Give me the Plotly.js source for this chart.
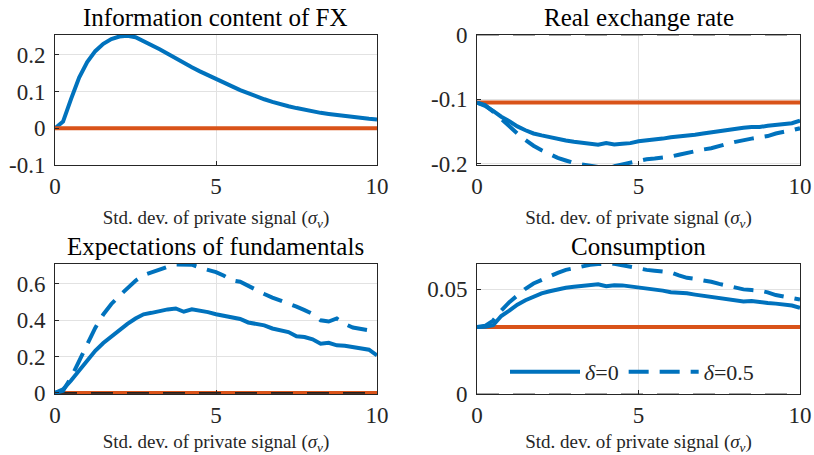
<!DOCTYPE html>
<html>
<head>
<meta charset="utf-8">
<script src="https://cdn.plot.ly/plotly-3.0.1.min.js"></script>
<style>html,body{margin:0;padding:0;background:#fff;}#chart{width:814px;height:455px;}</style>
</head>
<body>
<div id="chart"></div>
<script>
// ---- data ----
const sigmaV = [0,0.25,0.5,0.75,1,1.25,1.5,1.75,2,2.25,2.5,2.75,3,3.25,3.5,3.75,4,4.25,4.5,4.75,5,5.25,5.5,5.75,6,6.25,6.5,6.75,7,7.25,7.5,7.75,8,8.25,8.5,8.75,9,9.25,9.5,9.75,10];

const infoFX = [0,0.018,0.08,0.138,0.18,0.21,0.23,0.243,0.25,0.252,0.248,0.238,0.226,0.215,0.203,0.19,0.177,0.166,0.155,0.144,0.134,0.124,0.114,0.104,0.095,0.087,0.079,0.072,0.065,0.06,0.055,0.05,0.046,0.042,0.039,0.036,0.033,0.031,0.029,0.026,0.024];

const rerD0 = [-0.105,-0.110,-0.118,-0.127,-0.134,-0.142,-0.148,-0.153,-0.156,-0.159,-0.162,-0.164,-0.166,-0.168,-0.169,-0.1705,-0.168,-0.170,-0.169,-0.168,-0.165,-0.164,-0.163,-0.161,-0.159,-0.158,-0.156,-0.155,-0.153,-0.151,-0.149,-0.147,-0.146,-0.144,-0.143,-0.143,-0.141,-0.140,-0.139,-0.137,-0.133];
const rerD05 = [-0.105,-0.109,-0.119,-0.131,-0.143,-0.153,-0.163,-0.172,-0.179,-0.185,-0.191,-0.195,-0.199,-0.201,-0.203,-0.205,-0.205,-0.204,-0.201,-0.198,-0.195,-0.193,-0.192,-0.191,-0.189,-0.186,-0.183,-0.180,-0.178,-0.176,-0.172,-0.169,-0.166,-0.163,-0.161,-0.159,-0.157,-0.153,-0.151,-0.148,-0.145];

const expD0 = [0,0.02,0.068,0.122,0.17,0.232,0.275,0.312,0.348,0.38,0.41,0.433,0.441,0.452,0.46,0.465,0.447,0.46,0.455,0.445,0.433,0.423,0.413,0.407,0.388,0.38,0.372,0.355,0.345,0.335,0.312,0.308,0.295,0.271,0.276,0.262,0.26,0.252,0.245,0.238,0.207];
const expD05 = [0,0.012,0.085,0.18,0.265,0.358,0.432,0.49,0.535,0.58,0.618,0.648,0.665,0.678,0.695,0.707,0.706,0.706,0.69,0.676,0.665,0.645,0.62,0.612,0.588,0.565,0.545,0.525,0.51,0.493,0.475,0.456,0.435,0.40,0.393,0.41,0.38,0.36,0.352,0.345,0.325];

const consD0 = [0.032,0.0321,0.0328,0.0372,0.0398,0.0426,0.0447,0.0466,0.048,0.049,0.0499,0.0507,0.0512,0.0516,0.052,0.0523,0.0514,0.0519,0.0518,0.0513,0.0508,0.0504,0.05,0.0493,0.0485,0.0483,0.048,0.0474,0.0469,0.0464,0.0457,0.0452,0.0449,0.0441,0.0444,0.0437,0.0434,0.0431,0.0428,0.0422,0.0411];
const consD05 = [0.032,0.0325,0.035,0.0398,0.0438,0.0472,0.0502,0.0527,0.0545,0.0562,0.0578,0.0592,0.0601,0.0609,0.0616,0.062,0.0621,0.0621,0.0614,0.0606,0.0598,0.0592,0.0588,0.0586,0.058,0.0566,0.0554,0.0549,0.0544,0.0535,0.0525,0.0515,0.0506,0.0499,0.0496,0.0493,0.0485,0.0472,0.0465,0.0458,0.045];

// benchmark (orange) and zero reference lines
const benchX = [0, 10];
const benchFX = [0, 0];
const benchRER = [-0.105, -0.105];
const benchEXP = [0, 0];
const benchCONS = [0.032, 0.032];
const zeroLine = [0, 0];

const panelTitles = ["Information content of FX", "Real exchange rate", "Expectations of fundamentals", "Consumption"];
const legendNames = ["<i>δ</i>=0", "<i>δ</i>=0.5"];
const xTickVals = [0, 5, 10];
const xTickText = ["0", "5", "10"];
const yTicks1 = [-0.1, 0, 0.1, 0.2], yText1 = ["-0.1", "0", "0.1", "0.2"];
const yTicks2 = [-0.2, -0.1, 0], yText2 = ["-0.2", "-0.1", "0"];
const yTicks3 = [0, 0.2, 0.4, 0.6], yText3 = ["0", "0.2", "0.4", "0.6"];
const yTicks4 = [0, 0.05], yText4 = ["0", "0.05"];
const xLabel = "Std. dev. of private signal (<i>σ</i><sub><i>v</i></sub>)";

// ---- style ----
const BLUE = "#0072BD", ORANGE = "#D95319", AX = "#262626";
const FONT = "Liberation Serif";
const LW = 4;
const DASH = "20px,11px";

function line(x, y, xa, ya, color, dash, name, show) {
  return {x: x, y: y, xaxis: xa, yaxis: ya, type: "scatter", mode: "lines",
    line: {color: color, width: LW, dash: dash || "solid"}, name: name || "",
    showlegend: !!show, hoverinfo: "skip"};
}
function zero(xa, ya, col) {
  return {x: benchX, y: zeroLine, xaxis: xa, yaxis: ya, type: "scatter", mode: "lines",
    line: {color: col || "#333", width: 1.6, dash: "22px,14px"}, showlegend: false, hoverinfo: "skip"};
}

const traces = [
  // panel 1
  line(sigmaV, infoFX, "x", "y", BLUE),
  zero("x", "y"),
  line(benchX, benchFX, "x", "y", ORANGE),
  // panel 2
  zero("x2", "y2", "#888"),
  line(benchX, benchRER, "x2", "y2", ORANGE),
  line(sigmaV, rerD0, "x2", "y2", BLUE),
  line(sigmaV, rerD05, "x2", "y2", BLUE, DASH),
  // panel 3
  line(benchX, benchEXP, "x3", "y3", ORANGE),
  zero("x3", "y3", "#222"),
  line(sigmaV, expD0, "x3", "y3", BLUE),
  line(sigmaV, expD05, "x3", "y3", BLUE, DASH),
  // panel 4
  zero("x4", "y4", "#888"),
  line(benchX, benchCONS, "x4", "y4", ORANGE),
  line(sigmaV, consD0, "x4", "y4", BLUE, "solid", legendNames[0], true),
  line(sigmaV, consD05, "x4", "y4", BLUE, DASH, legendNames[1], true)
];

const W = 814, H = 455;
function xd(a, b) { return [a / W, b / W]; }
function yd(top, bottom) { return [1 - bottom / H, 1 - top / H]; }

function xAxis(dom, anchor) {
  return {domain: dom, anchor: anchor, range: [0, 10], tickvals: xTickVals, ticktext: xTickText,
    showline: true, mirror: true, linecolor: AX, linewidth: 1, ticks: "inside", ticklen: 4,
    tickcolor: AX, showgrid: true, gridcolor: "#e2e2e2", gridwidth: 1, zeroline: false,
    tickfont: {family: FONT, size: 23, color: AX}, fixedrange: true,
    title: {text: xLabel, font: {family: FONT, size: 19, color: AX}, standoff: 13}};
}
function yAxis(dom, anchor, range, tv, tt) {
  return {domain: dom, anchor: anchor, range: range, tickvals: tv, ticktext: tt,
    showline: true, mirror: true, linecolor: AX, linewidth: 1, ticks: "inside", ticklen: 4,
    tickcolor: AX, showgrid: true, gridcolor: "#e2e2e2", gridwidth: 1, zeroline: false,
    tickfont: {family: FONT, size: 23, color: AX}, fixedrange: true, ticklabelstandoff: 4};
}

const dx1 = xd(55, 377), dx2 = xd(477, 800);
const dyTop = yd(35, 165), dyBot = yd(264, 394);

function titleAnn(text, dom, top) {
  return {text: text, x: (dom[0] + dom[1]) / 2, y: top, xref: "paper", yref: "paper",
    xanchor: "center", yanchor: "bottom", yshift: 2, showarrow: false,
    font: {family: FONT, size: 25, color: "#000"}};
}

const layout = {
  width: W, height: H, margin: {l: 0, r: 0, t: 0, b: 0, autoexpand: false},
  paper_bgcolor: "#fff", plot_bgcolor: "#fff", showlegend: true,
  xaxis: xAxis(dx1, "y"), yaxis: yAxis(dyTop, "x", [-0.1, 0.254], yTicks1, yText1),
  xaxis2: xAxis(dx2, "y2"), yaxis2: yAxis(dyTop, "x2", [-0.202, 0], yTicks2, yText2),
  xaxis3: xAxis(dx1, "y3"), yaxis3: yAxis(dyBot, "x3", [-0.006, 0.71], yTicks3, yText3),
  xaxis4: xAxis(dx2, "y4"), yaxis4: yAxis(dyBot, "x4", [0, 0.062], yTicks4, yText4),
  legend: {orientation: "h", x: 505 / W, y: 1 - 372 / H, xanchor: "left", yanchor: "middle",
    bgcolor: "rgba(0,0,0,0)", borderwidth: 0, itemwidth: 70, tracegroupgap: 0,
    font: {family: FONT, size: 22, color: AX}},
  annotations: [
    titleAnn(panelTitles[0], dx1, dyTop[1]),
    titleAnn(panelTitles[1], dx2, dyTop[1]),
    titleAnn(panelTitles[2], dx1, dyBot[1]),
    titleAnn(panelTitles[3], dx2, dyBot[1])
  ]
};

Plotly.newPlot("chart", traces, layout, {staticPlot: true, displayModeBar: false});
</script>
</body>
</html>
